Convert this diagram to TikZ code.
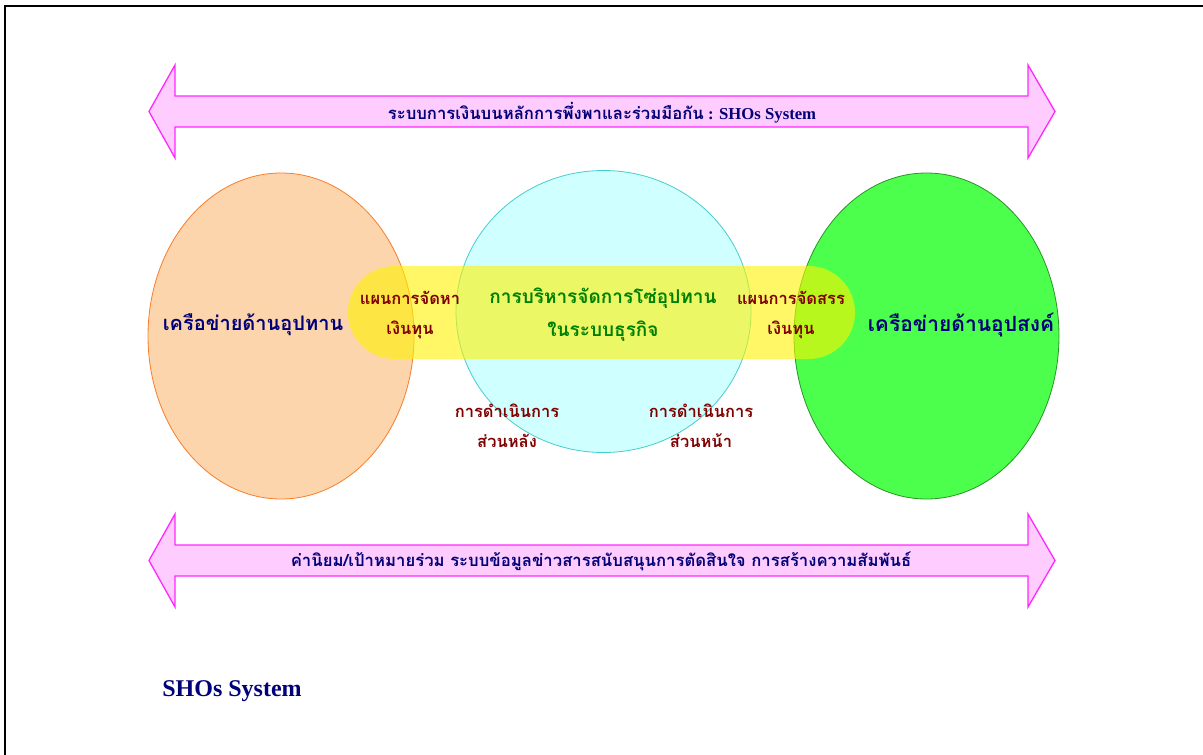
\documentclass[tikz,border=0pt]{standalone}
\usepackage{fontspec}
\setmainfont{Liberation Serif}
\newfontfamily\thai[Script=Thai]{Loma}
\begin{document}
\begin{tikzpicture}[x=1pt,y=-1pt,
  arrowband/.style={fill=pinkfill,draw=pinkline,line width=1.3pt,line join=miter},
  redlbl/.style={text=maroonred,font=\thai\bfseries\fontsize{16.5}{30}\selectfont,align=center},
  biglbl/.style={text=navyblue,font=\thai\bfseries\fontsize{20}{24}\selectfont},
  midlbl/.style={text=greentext,font=\thai\bfseries\fontsize{19}{33}\selectfont,align=center},
  bandlbl/.style={text=navyblue,font=\thai\bfseries\fontsize{16.7}{20}\selectfont}]
\definecolor{navyblue}{RGB}{0,0,120}
\definecolor{maroonred}{RGB}{128,0,0}
\definecolor{greentext}{RGB}{0,128,0}
\definecolor{pinkfill}{RGB}{255,204,255}
\definecolor{pinkline}{RGB}{255,40,255}
\definecolor{orangefill}{RGB}{252,213,172}
\definecolor{orangeline}{RGB}{250,125,40}
\definecolor{cyanfill}{RGB}{208,255,255}
\definecolor{cyanline}{RGB}{70,205,205}
\definecolor{greenfill}{RGB}{76,255,76}
\definecolor{greenline}{RGB}{40,150,40}
\useasboundingbox (0,0) rectangle (1203,755);
\fill[white] (0,0) rectangle (1203,755);
% page frame (top and left edges)
\draw[line width=2pt] (5,755) -- (5,6) -- (1203,6);

% double-headed bands
\draw[arrowband] (149,111.5) -- (175,65) -- (175,96) -- (1028,96) -- (1028,65)
  -- (1055,111.5) -- (1028,158) -- (1028,127) -- (175,127) -- (175,158) -- cycle;
\draw[arrowband] (149,560.5) -- (175,514) -- (175,545) -- (1028,545) -- (1028,514)
  -- (1055,560.5) -- (1028,607) -- (1028,576) -- (175,576) -- (175,607) -- cycle;

% three networks
\draw[fill=orangefill,draw=orangeline,line width=0.8pt] (281,336) ellipse [x radius=133, y radius=163];
\draw[fill=cyanfill,draw=cyanline,line width=0.8pt] (603.5,311.5) ellipse [x radius=147.5, y radius=141];
\draw[fill=greenfill,draw=greenline,line width=0.8pt] (926.5,336) ellipse [x radius=132.5, y radius=163];

% translucent capital-flow band
\fill[yellow,fill opacity=0.6,rounded corners=46.4pt] (348,266) rectangle (855,359);

% labels
\node[bandlbl] (top) at (602,113) {ระบบการเงินบนหลักการพึ่งพาและร่วมมือกัน\rmfamily\bfseries\ : SHOs System};
\node[bandlbl] (bottom) at (601,561) {ค่านิยม/เป้าหมายร่วม ระบบข้อมูลข่าวสารสนับสนุนการตัดสินใจ การสร้างความสัมพันธ์};
\node[biglbl] (supply) at (253,325) {เครือข่ายด้านอุปทาน};
\node[biglbl,font=\thai\bfseries\fontsize{21}{24}\selectfont] (demand) at (961,325) {เครือข่ายด้านอุปสงค์};
\node[redlbl] (fund) at (410,315) {แผนการจัดหา\\เงินทุน};
\node[midlbl] (scm) at (603,315) {การบริหารจัดการโซ่อุปทาน\\ในระบบธุรกิจ};
\node[redlbl] (alloc) at (791,315) {แผนการจัดสรร\\เงินทุน};
\node[redlbl] (back) at (507,426) {การดำเนินการ\\ส่วนหลัง};
\node[redlbl] (front) at (701,426) {การดำเนินการ\\ส่วนหน้า};
\node[text=navyblue,font=\rmfamily\bfseries\fontsize{24}{28}\selectfont] (title) at (232,691) {SHOs System};
\end{tikzpicture}
\end{document}
